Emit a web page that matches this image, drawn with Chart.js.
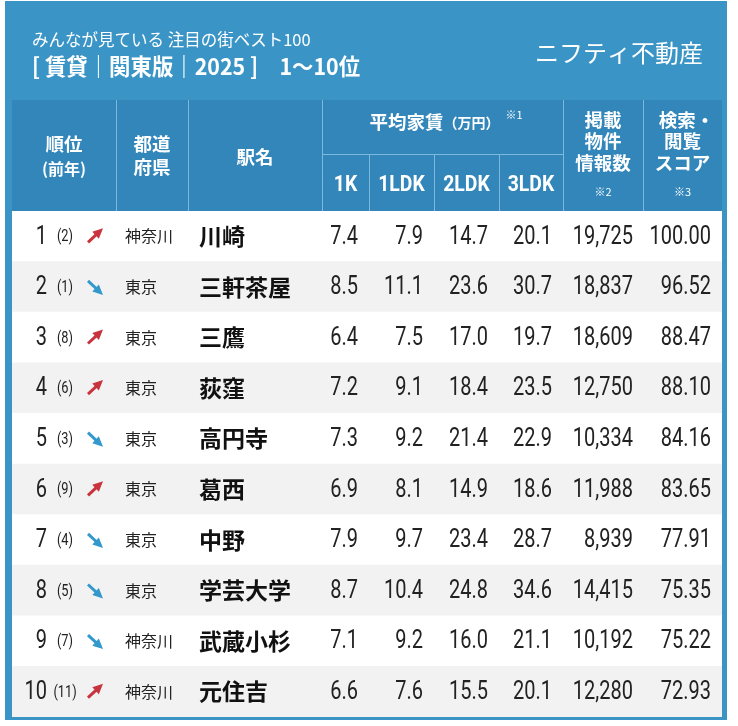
<!DOCTYPE html>
<html lang="ja">
<head>
<meta charset="utf-8">
<title>みんなが見ている 注目の街ベスト100 賃貸 関東版 2025</title>
<script src="https://cdn.jsdelivr.net/npm/chart.js"></script>
<style>
  html, body { margin: 0; padding: 0; background: #ffffff; }
  #wrap { width: 738px; height: 726px; }
</style>
</head>
<body>
<div id="wrap"><canvas id="table" width="738" height="726"></canvas></div>
<script>
// --- data ---
const ranks = [1, 2, 3, 4, 5, 6, 7, 8, 9, 10];
const prevRanks = [2, 1, 8, 6, 3, 9, 4, 5, 7, 11];
const prefectures = ['神奈川', '東京', '東京', '東京', '東京', '東京', '東京', '東京', '神奈川', '神奈川'];
const stations = ['川崎', '三軒茶屋', '三鷹', '荻窪', '高円寺', '葛西', '中野', '学芸大学', '武蔵小杉', '元住吉'];
const rent1K = [7.4, 8.5, 6.4, 7.2, 7.3, 6.9, 7.9, 8.7, 7.1, 6.6];
const rent1LDK = [7.9, 11.1, 7.5, 9.1, 9.2, 8.1, 9.7, 10.4, 9.2, 7.6];
const rent2LDK = [14.7, 23.6, 17.0, 18.4, 21.4, 14.9, 23.4, 24.8, 16.0, 15.5];
const rent3LDK = [20.1, 30.7, 19.7, 23.5, 22.9, 18.6, 28.7, 34.6, 21.1, 20.1];
const listings = [19725, 18837, 18609, 12750, 10334, 11988, 8939, 14415, 10192, 12280];
const scores = [100.00, 96.52, 88.47, 88.10, 84.16, 83.65, 77.91, 75.35, 75.22, 72.93];
const roomTypes = ['1K', '1LDK', '2LDK', '3LDK'];

const titleSub = 'みんなが見ている 注目の街ベスト100';
const titleMain = '[ 賃貸｜関東版｜2025 ]　1〜10位';
const brand = 'ニフティ不動産';

// --- layout (x in table units, 0 = left edge of table body) ---
const TABLE_W = 710;
const colEdges = [0, 104, 176, 310, 357, 422, 487, 551, 631, 710];

const NUM_FONT = 'Roboto, "Noto Sans", sans-serif';
const JP_FONT = '"Noto Sans CJK JP", "Noto Sans", sans-serif';
const BLUE = '#3a95c6';
const HEAD_BLUE = '#3286ba';
const LINE_BLUE = '#7cb9dc';
const INK = '#222222';
const UP_RED = '#c8333d';
const DOWN_BLUE = '#3398cc';

const fmtInt = (v) => v.toLocaleString('en-US');

function drawArrow(ctx, cx, cy, up) {
  const color = up ? UP_RED : DOWN_BLUE;
  const x0 = cx - 7, x1 = cx + 7;
  const y0 = up ? cy + 6 : cy - 6;
  const y1 = up ? cy - 7 : cy + 7;
  const ang = Math.atan2(y1 - y0, x1 - x0);
  ctx.save();
  ctx.strokeStyle = color;
  ctx.fillStyle = color;
  ctx.lineWidth = 3;
  ctx.beginPath();
  ctx.moveTo(x0, y0);
  ctx.lineTo(x1 - 5 * Math.cos(ang), y1 - 5 * Math.sin(ang));
  ctx.stroke();
  ctx.beginPath();
  ctx.moveTo(x1 + 1, y1 + (up ? -1 : 1));
  ctx.lineTo(x1 - 10 * Math.cos(ang - 0.5), y1 - 10 * Math.sin(ang - 0.5));
  ctx.lineTo(x1 - 10 * Math.cos(ang + 0.5), y1 - 10 * Math.sin(ang + 0.5));
  ctx.closePath();
  ctx.fill();
  ctx.restore();
}

// text, optionally squeezed horizontally (sx) to look like a condensed face
function text(ctx, str, x, y, font, color, align, sx) {
  ctx.save();
  ctx.font = font;
  ctx.fillStyle = color;
  ctx.textAlign = align || 'left';
  ctx.textBaseline = 'middle';
  ctx.translate(x, y);
  ctx.scale(sx || 1, 1);
  ctx.fillText(str, 0, 0);
  ctx.restore();
}

const tablePlugin = {
  id: 'tablePlugin',
  beforeDraw(chart) {
    const { ctx, chartArea, scales } = chart;
    const xs = scales.x;
    const px = (v) => xs.getPixelForValue(v);
    const top = 100, bottom = chartArea.top, mid = 154;

    ctx.save();
    // panel
    ctx.fillStyle = BLUE;
    ctx.fillRect(5, 1, 722, 719);
    // title
    text(ctx, titleSub, 32, 40, '400 16.5px ' + JP_FONT, '#ffffff');
    text(ctx, titleMain, 32, 66, '700 23px ' + JP_FONT, '#ffffff', 'left', 0.93);
    text(ctx, brand, 703, 53, '400 24px ' + JP_FONT, '#ffffff', 'right');

    // header block
    ctx.fillStyle = HEAD_BLUE;
    ctx.fillRect(px(0), top, px(TABLE_W) - px(0), bottom - top);
    ctx.strokeStyle = LINE_BLUE;
    ctx.lineWidth = 1;
    ctx.beginPath();
    colEdges.slice(1, -1).forEach((e, i) => {
      const x = Math.round(px(e)) + 0.5;
      const inner = i >= 3 && i <= 5;
      ctx.moveTo(x, inner ? mid : top);
      ctx.lineTo(x, bottom);
    });
    ctx.moveTo(px(colEdges[3]), mid + 0.5);
    ctx.lineTo(px(colEdges[7]), mid + 0.5);
    ctx.stroke();

    const cx = (i) => (px(colEdges[i]) + px(colEdges[i + 1])) / 2;
    const hb = '700 18.5px ' + JP_FONT;
    const W = '#ffffff';
    text(ctx, '順位', cx(0), 144, hb, W, 'center');
    text(ctx, '(前年)', cx(0), 169, '700 16px ' + JP_FONT, W, 'center');
    text(ctx, '都道', cx(1), 144, hb, W, 'center');
    text(ctx, '府県', cx(1), 167, hb, W, 'center');
    text(ctx, '駅名', cx(2), 157, hb, W, 'center');

    // 平均家賃 group
    ctx.font = hb;
    const w1 = ctx.measureText('平均家賃').width;
    ctx.font = '700 14px ' + JP_FONT;
    const w2 = ctx.measureText('（万円）').width;
    const gx = (px(colEdges[3]) + px(colEdges[7])) / 2 - (w1 + w2) / 2 - 8;
    text(ctx, '平均家賃', gx, 122, hb, W);
    text(ctx, '（万円）', gx + w1, 123, '700 14px ' + JP_FONT, W);
    text(ctx, '※1', gx + w1 + w2 + 6, 115, '400 11px ' + JP_FONT, W);
    roomTypes.forEach((t, k) => {
      text(ctx, t, cx(3 + k), 185, '700 22px ' + NUM_FONT, W, 'center', 0.88);
    });

    text(ctx, '掲載', cx(7), 120, hb, W, 'center');
    text(ctx, '物件', cx(7), 141, hb, W, 'center');
    text(ctx, '情報数', cx(7), 163, hb, W, 'center');
    text(ctx, '※2', cx(7), 192, '400 11px ' + JP_FONT, W, 'center');
    text(ctx, '検索・', cx(8) + 4, 120, hb, W, 'center');
    text(ctx, '閲覧', cx(8), 141, hb, W, 'center');
    text(ctx, 'スコア', cx(8), 163, hb, W, 'center');
    text(ctx, '※3', cx(8), 192, '400 11px ' + JP_FONT, W, 'center');
    ctx.restore();
  },
  afterDatasetsDraw(chart) {
    const { ctx, scales } = chart;
    const xs = scales.x, ys = scales.y;
    const px = (v) => xs.getPixelForValue(v);
    const numF = '400 25px ' + NUM_FONT;
    const SQ = 0.8;
    const cols = [rent1K, rent1LDK, rent2LDK, rent3LDK];

    ranks.forEach((r, i) => {
      const y = ys.getPixelForValue(i);
      text(ctx, String(r), px(35), y + 1, numF, INK, 'right', SQ);
      text(ctx, '(' + prevRanks[i] + ')', px(53), y + 1, '400 16px ' + NUM_FONT, INK, 'center', SQ);
      drawArrow(ctx, px(83), y, prevRanks[i] > r);
      text(ctx, prefectures[i], px(colEdges[1]) + 9, y, '400 16px ' + JP_FONT, INK);
      text(ctx, stations[i], px(colEdges[2]) + 11, y, '700 23px ' + JP_FONT, '#111111');
      cols.forEach((arr, k) => {
        text(ctx, arr[i].toFixed(1), px(colEdges[4 + k]) - 11, y + 1, numF, INK, 'right', SQ);
      });
      text(ctx, fmtInt(listings[i]), px(colEdges[8]) - 10, y + 1, numF, INK, 'right', SQ);
      text(ctx, scores[i].toFixed(2), px(colEdges[9]) - 11, y + 1, numF, INK, 'right', SQ);
    });
  }
};

new Chart(document.getElementById('table'), {
  type: 'bar',
  data: {
    labels: ranks.map(String),
    datasets: [{
      data: ranks.map(() => [0, TABLE_W]),
      backgroundColor: ranks.map((r, i) => (i % 2 === 0 ? '#ffffff' : '#f2f2f2')),
      borderWidth: 0,
      categoryPercentage: 1,
      barPercentage: 1
    }]
  },
  options: {
    indexAxis: 'y',
    responsive: false,
    devicePixelRatio: 1,
    animation: false,
    layout: { padding: { left: 12, top: 211, right: 16, bottom: 9 } },
    plugins: { legend: { display: false }, tooltip: { enabled: false } },
    scales: {
      x: { type: 'linear', min: 0, max: TABLE_W, display: false },
      y: { type: 'category', display: false }
    }
  },
  plugins: [tablePlugin]
});
</script>
</body>
</html>
